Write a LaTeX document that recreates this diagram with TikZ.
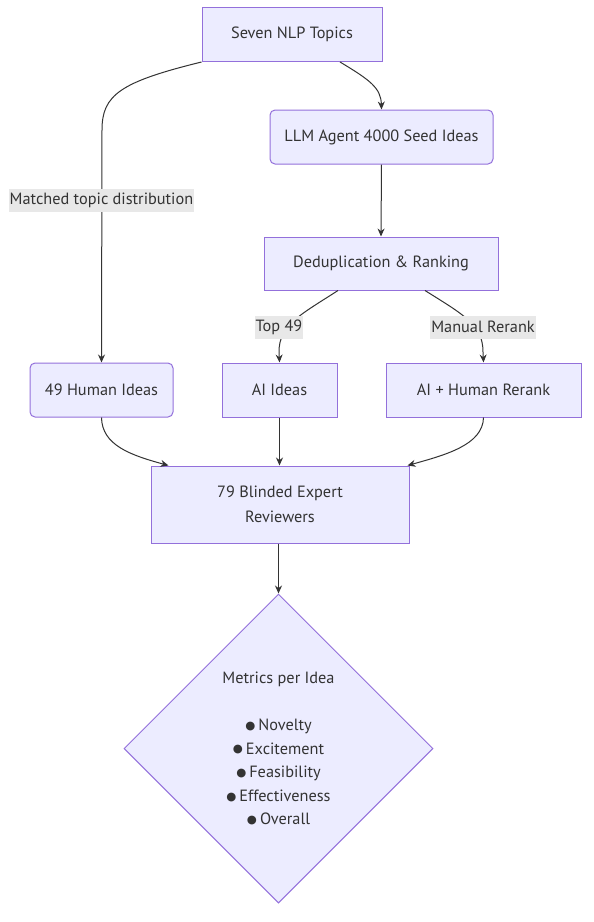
\documentclass[tikz,border=0pt]{standalone}
\usepackage{fontspec}
\setmainfont{PT Sans}
\newfontfamily\symfont{DejaVu Sans}
\usetikzlibrary{shapes.geometric,arrows.meta,calc}
\definecolor{nodefill}{HTML}{ECECFF}
\definecolor{nodeline}{HTML}{9370DB}
\definecolor{ink}{HTML}{333333}
\definecolor{lblbg}{HTML}{E8E8E8}
\newcommand{\bul}{\raisebox{1.2pt}{\symfont\fontsize{11.5}{11.5}\selectfont ●}\hspace{3pt}}
\begin{document}
\begin{tikzpicture}[x=1pt,y=-1pt,
  font=\fontsize{16.3}{23.6}\selectfont,
  box/.style={draw=nodeline,fill=nodefill,line width=1pt,text=ink,inner sep=0pt,align=center},
  rbox/.style={box,rounded corners=5pt},
  lbl/.style={fill=lblbg,text=ink,inner xsep=1pt,inner ysep=0pt,minimum height=23pt},
  edge/.style={draw=ink,line width=1pt,-{Stealth[length=8pt,width=7pt]}}]
\useasboundingbox (0,0) rectangle (594,922);
\node[box,minimum width=180pt,minimum height=54pt] (seven) at (292,34.5) {Seven NLP Topics};
\node[rbox,minimum width=223pt,minimum height=54pt] (llm) at (381.5,137) {LLM Agent 4000 Seed Ideas};
\node[box,minimum width=234pt,minimum height=53pt] (dedup) at (381,263.5) {Deduplication \& Ranking};
\node[rbox,minimum width=143pt,minimum height=54pt] (human) at (101.5,390) {49 Human Ideas};
\node[box,minimum width=115pt,minimum height=54pt] (ai) at (279.5,390) {AI Ideas};
\node[box,minimum width=195pt,minimum height=54pt] (rerank) at (483.5,390) {AI + Human Rerank};
\node[box,minimum width=258pt,minimum height=77pt,font=\fontsize{16.3}{25}\selectfont] (rev) at (280,504.5) {79 Blinded Expert\\Reviewers};
\node[box,shape=diamond,aspect=1,minimum width=309pt,minimum height=309pt] (metrics) at (278.5,748.5)
  {Metrics per Idea\\[23.6pt]\bul Novelty\\\bul Excitement\\\bul Feasibility\\\bul Effectiveness\\\bul Overall};
\draw[edge] (seven.south west) .. controls (120,82) and (102,95) .. (102,130) -- (human.north);
\draw[edge] ($(seven.south)+(48,0)$) .. controls (370,80) and (381,88) .. (llm.north);
\draw[edge] (llm.south) -- (dedup.north);
\draw[edge] ($(dedup.south)+(-43,0)$) .. controls (300,315) and (279,325) .. (279,352) -- (ai.north);
\draw[edge] ($(dedup.south)+(44,0)$) .. controls (464,315) and (483,325) .. (483,352) -- (rerank.north);
\draw[edge] (human.south) .. controls (102,445) and (130,455) .. ($(rev.north west)+(18,0)$);
\draw[edge] (ai.south) -- (ai.south |- rev.north);
\draw[edge] (rerank.south) .. controls (483,445) and (445,455) .. ($(rev.north east)+(-2,0)$);
\draw[edge] (rev.south -| metrics.north) -- (metrics.north);
\node[lbl] (l1) at (101.5,200.5) {Matched topic distribution};
\node[lbl] (l2) at (279,327) {Top 49};
\node[lbl] (l3) at (483,327) {Manual Rerank};
\end{tikzpicture}
\end{document}
